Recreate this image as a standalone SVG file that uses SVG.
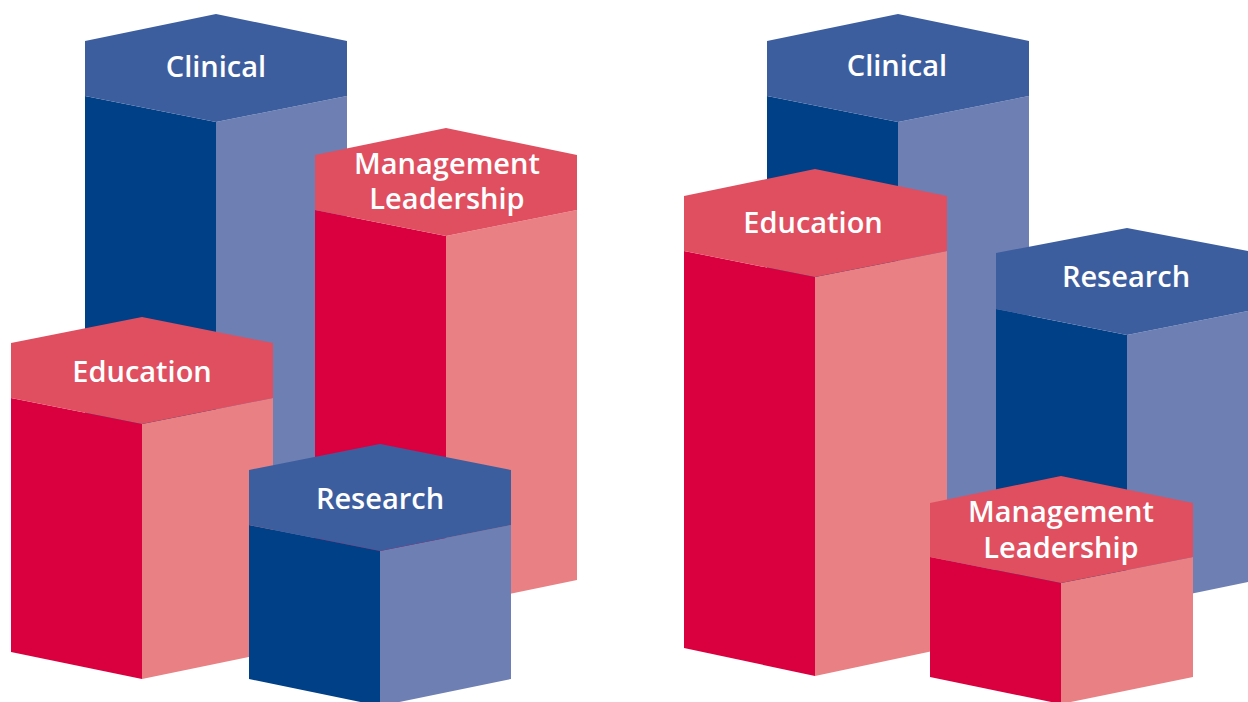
<svg xmlns="http://www.w3.org/2000/svg" width="1248" height="702" viewBox="0 0 1248 702">
<style>
.bt{fill:#3D5E9E}.bl{fill:#004087}.br{fill:#6E7FB3}
.rt{fill:#E04F60}.rl{fill:#DA0040}.rr{fill:#E98083}
text{font-family:"Open Sans","Liberation Sans",sans-serif;font-weight:600;font-size:29px;fill:#FFFFFF;text-anchor:middle}
</style>
<rect width="1248" height="702" fill="#FFFFFF"/>
<g id="left-clinical">
<polygon class="bl" points="85,96 216,122 216,607 85,580"/>
<polygon class="br" points="216,122 347,96 347,580 216,607"/>
<polygon class="bt" points="85,41 216,14 347,41 347,96 216,122 85,96"/>
<text x="216" y="77">Clinical</text>
</g>
<g id="left-management">
<polygon class="rl" points="315,210 446,236 446,607 315,580"/>
<polygon class="rr" points="446,236 577,210 577,580 446,607"/>
<polygon class="rt" points="315,155 446,128 577,155 577,210 446,236 315,210"/>
<text x="447" y="174">Management</text>
<text x="447" y="209">Leadership</text>
</g>
<g id="left-education">
<polygon class="rl" points="11,398 142,424 142,679 11,652"/>
<polygon class="rr" points="142,424 273,398 273,652 142,679"/>
<polygon class="rt" points="11,343 142,317 273,343 273,398 142,424 11,398"/>
<text x="142" y="382">Education</text>
</g>
<g id="left-research">
<polygon class="bl" points="249,525 380,551 380,706 249,679"/>
<polygon class="br" points="380,551 511,525 511,679 380,706"/>
<polygon class="bt" points="249,470 380,444 511,470 511,525 380,551 249,525"/>
<text x="380" y="509">Research</text>
</g>
<g id="right-clinical">
<polygon class="bl" points="767,96 898,122 898,607 767,580"/>
<polygon class="br" points="898,122 1029,96 1029,580 898,607"/>
<polygon class="bt" points="767,41 898,14 1029,41 1029,96 898,122 767,96"/>
<text x="897" y="76">Clinical</text>
</g>
<g id="right-education">
<polygon class="rl" points="684,251 815,277 815,676 684,648"/>
<polygon class="rr" points="815,277 947,251 947,648 815,676"/>
<polygon class="rt" points="684,196 815,169 947,196 947,251 815,277 684,251"/>
<text x="813" y="233">Education</text>
</g>
<g id="right-research">
<polygon class="bl" points="996,309 1127,335 1127,607 996,580"/>
<polygon class="br" points="1127,335 1258,309 1258,580 1127,607"/>
<polygon class="bt" points="996,253 1127,228 1258,253 1258,309 1127,335 996,309"/>
<text x="1126" y="287">Research</text>
</g>
<g id="right-management">
<polygon class="rl" points="930,557 1061,583 1061,704 930,677"/>
<polygon class="rr" points="1061,583 1193,557 1193,677 1061,704"/>
<polygon class="rt" points="930,503 1061,476 1193,503 1193,557 1061,583 930,557"/>
<text x="1061" y="522">Management</text>
<text x="1061" y="558">Leadership</text>
</g>
<g id="connectors"/>
</svg>
